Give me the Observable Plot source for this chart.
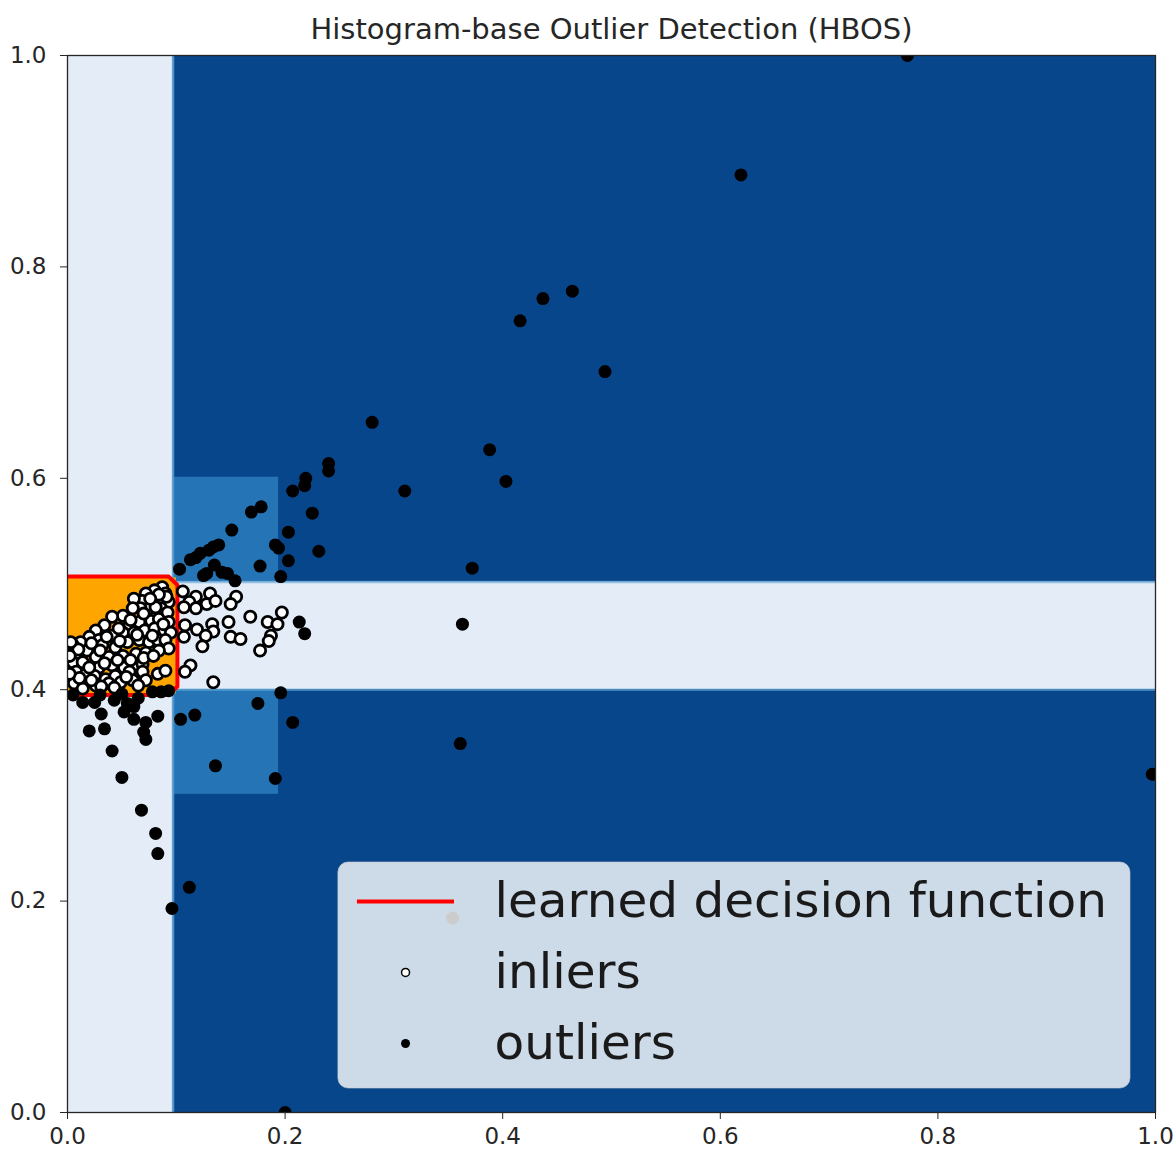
<!DOCTYPE html>
<html><head><meta charset="utf-8">
<script src="https://cdn.jsdelivr.net/npm/d3@7"></script>
<script src="https://cdn.jsdelivr.net/npm/@observablehq/plot@0.6"></script>
<style>body{margin:0;background:#fff;}</style>
</head><body><div id="chart"></div>
<script>
const title = "Histogram-base Outlier Detection (HBOS)";
const xTicks = [0, 0.2, 0.4, 0.6, 0.8, 1.0];
const yTicks = [0, 0.2, 0.4, 0.6, 0.8, 1.0];

// decision-score regions (contourf levels)
const regionLevel = ["high", "low", "mid", "low", "inlier"];
const regionX1 = [0, 0, 0.098, 0, 0];
const regionX2 = [1, 0.097, 0.194, 1, 0.1];
const regionY1 = [0, 0, 0.301, 0.400, 0.396];
const regionY2 = [1, 1, 0.601, 0.502, 0.506];

// learned decision function contour (threshold)
const contourX = [0, 0.093, 0.101, 0.101, 0.093, 0];
const contourY = [0.507, 0.507, 0.499, 0.403, 0.395, 0.395];

const inliers = [
  [0.087,0.497],[0.080,0.494],[0.072,0.491],[0.090,0.491],[0.069,0.484],[0.061,0.486],[0.080,0.484],[0.087,0.483],[0.093,0.483],
  [0.075,0.477],[0.086,0.477],[0.067,0.477],[0.060,0.477],[0.051,0.470],[0.041,0.469],[0.034,0.461],[0.057,0.462],[0.066,0.464],[0.077,0.465],[0.084,0.467],[0.092,0.473],[0.093,0.464],
  [0.026,0.456],[0.020,0.450],[0.012,0.445],[0.005,0.442],[0.029,0.447],[0.041,0.451],[0.051,0.454],[0.061,0.454],[0.071,0.456],[0.080,0.458],[0.089,0.456],[0.095,0.454],
  [0.008,0.434],[0.018,0.437],[0.032,0.442],[0.044,0.440],[0.055,0.445],[0.066,0.447],[0.075,0.445],[0.083,0.447],[0.090,0.447],[0.093,0.439],
  [0.005,0.426],[0.014,0.426],[0.026,0.431],[0.038,0.431],[0.051,0.432],[0.063,0.434],[0.072,0.435],[0.084,0.437],
  [0.008,0.417],[0.017,0.415],[0.029,0.421],[0.041,0.423],[0.052,0.421],[0.061,0.423],[0.069,0.424],
  [0.006,0.406],[0.015,0.406],[0.025,0.413],[0.035,0.410],[0.044,0.413],[0.057,0.417],[0.069,0.417],
  [0.014,0.401],[0.026,0.404],[0.038,0.406],[0.049,0.407],[0.060,0.409],[0.072,0.409],[0.083,0.415],[0.090,0.418],
  [0.010,0.438],[0.022,0.444],[0.036,0.450],[0.047,0.458],[0.058,0.466],[0.070,0.472],[0.081,0.478],[0.091,0.488],[0.084,0.490],[0.076,0.486],
  [0.030,0.437],[0.048,0.446],[0.064,0.452],[0.078,0.451],[0.088,0.462],
  [0.020,0.421],[0.034,0.425],[0.046,0.428],[0.058,0.428],[0.070,0.430],[0.079,0.432],
  [0.011,0.411],[0.022,0.409],[0.031,0.403],[0.043,0.402],[0.054,0.412],[0.065,0.404],
  [0.002,0.415],[0.002,0.432],[0.003,0.445],
  [0.106,0.493],[0.131,0.491],[0.118,0.488],[0.112,0.483],[0.128,0.481],[0.136,0.484],[0.118,0.477],[0.107,0.478],[0.155,0.488],[0.150,0.481],
  [0.168,0.469],[0.148,0.464],[0.184,0.464],[0.193,0.462],[0.197,0.473],[0.133,0.462],[0.119,0.457],[0.134,0.455],[0.127,0.451],[0.108,0.461],
  [0.107,0.450],[0.150,0.450],[0.159,0.448],[0.187,0.451],[0.185,0.446],[0.177,0.437],[0.124,0.441],[0.113,0.423],[0.108,0.417],[0.134,0.407]
];

const outliers = [
  [0.772,1.000],[0.619,0.887],[0.464,0.777],[0.437,0.770],[0.416,0.749],[0.494,0.701],[0.280,0.653],[0.388,0.627],[0.403,0.597],[0.310,0.588],
  [0.372,0.515],[0.363,0.462],[0.361,0.349],[0.997,0.320],[0.200,0.000],[0.354,0.184],
  [0.240,0.614],[0.240,0.607],[0.219,0.600],[0.218,0.593],[0.207,0.588],[0.225,0.567],[0.178,0.573],[0.169,0.568],[0.151,0.551],[0.203,0.549],
  [0.191,0.537],[0.194,0.534],[0.231,0.531],[0.139,0.537],[0.134,0.535],[0.130,0.532],[0.122,0.529],[0.118,0.525],[0.113,0.523],[0.103,0.514],
  [0.203,0.522],[0.177,0.517],[0.135,0.518],[0.125,0.508],[0.147,0.510],[0.154,0.503],[0.196,0.507],[0.128,0.510],[0.142,0.511],
  [0.213,0.464],[0.218,0.453],
  [0.014,0.388],[0.025,0.388],[0.043,0.390],[0.055,0.387],[0.061,0.384],[0.052,0.379],[0.061,0.372],[0.031,0.377],[0.083,0.375],[0.072,0.369],
  [0.020,0.361],[0.034,0.363],[0.070,0.360],[0.072,0.353],[0.041,0.342],[0.078,0.398],[0.093,0.399],[0.005,0.395],[0.030,0.395],[0.050,0.396],
  [0.065,0.392],[0.086,0.398],
  [0.050,0.317],[0.068,0.286],[0.081,0.264],[0.083,0.245],[0.112,0.213],[0.096,0.193],[0.136,0.328],
  [0.196,0.397],[0.175,0.387],[0.104,0.372],[0.117,0.376],[0.207,0.369],[0.191,0.316]
];

const legendLabels = ["learned decision function", "inliers", "outliers"];

// ---- styles / layout ----
const levelColors = {high: "#08468b", mid: "#2474b6", low: "#e3ecf7", inlier: "#ffa500"};
const edgeColor = "#5fa4d4";
const regions = regionLevel.map((l, i) => ({level: l, x1: regionX1[i], x2: regionX2[i], y1: regionY1[i], y2: regionY2[i]}));
const contour = contourX.map((x, i) => ({x, y: contourY[i]}));
// soft transitions along the contour-level boundaries (from the region arrays)
const stripEdge = regionX2[1];
const bandLow = regionY1[3], bandHigh = regionY2[3];
const vEdges = [{x: stripEdge, y1: 0, y2: bandLow}, {x: stripEdge, y1: bandHigh, y2: 1}];
const hEdges = [{y: bandLow, x1: stripEdge, x2: 1}, {y: bandHigh, x1: stripEdge, x2: 1}];
const L = {x1: 0.249, x2: 0.977, y1: 0.0227, y2: 0.2365, mark: 0.3107, lineX1: 0.2665, lineX2: 0.3557, textX: 0.3925, rows: [0.1996, 0.1325, 0.0653]};
const legendRows = legendLabels.map((t, i) => ({text: t, y: L.rows[i]}));

const chart = Plot.plot({
  width: 1176, height: 1152,
  marginLeft: 67, marginRight: 21, marginTop: 55, marginBottom: 40,
  x: {domain: [0, 1]},
  y: {domain: [0, 1]},
  style: {fontFamily: "DejaVu Sans", background: "white", color: "#262626"},
  marks: [
    Plot.rect(regions, {x1: "x1", x2: "x2", y1: "y1", y2: "y2", fill: d => levelColors[d.level]}),
    Plot.ruleX(vEdges, {x: "x", y1: "y1", y2: "y2", stroke: edgeColor, strokeWidth: 2.5, strokeOpacity: 0.8}),
    Plot.ruleY(hEdges, {y: "y", x1: "x1", x2: "x2", stroke: edgeColor, strokeWidth: 2.5, strokeOpacity: 0.6}),
    Plot.line(contour, {x: "x", y: "y", stroke: "#ff0000", strokeWidth: 4, strokeLinejoin: "round", clip: true}),
    Plot.dot(inliers, {x: d => d[0], y: d => d[1], r: 5.6, fill: "white", stroke: "black", strokeWidth: 2.8, clip: true}),
    Plot.dot(outliers, {x: d => d[0], y: d => d[1], r: 6.5, fill: "black", clip: true}),
    Plot.rect([L], {x1: "x1", x2: "x2", y1: "y1", y2: "y2", fill: "white", fillOpacity: 0.8, stroke: "#d0d0d0", strokeOpacity: 0.6, rx: 10}),
    Plot.ruleY([legendRows[0]], {y: "y", x1: L.lineX1, x2: L.lineX2, stroke: "#ff0000", strokeWidth: 4}),
    Plot.dot([legendRows[1]], {x: () => L.mark, y: "y", r: 4, fill: "white", stroke: "black", strokeWidth: 1.5}),
    Plot.dot([legendRows[2]], {x: () => L.mark, y: "y", r: 4.5, fill: "black"}),
    Plot.text(legendRows, {x: () => L.textX, y: "y", text: "text", textAnchor: "start", fontSize: 48.5, fill: "#1a1a1a"}),
    Plot.frame({stroke: "#262626", strokeWidth: 1.3}),
    Plot.axisX(xTicks, {tickSize: 7, tickPadding: 8, fontSize: 23, tickFormat: d3.format(".1f"), label: null}),
    Plot.axisY(yTicks, {tickSize: 7, tickPadding: 14, fontSize: 23, tickFormat: d3.format(".1f"), label: null}),
    Plot.text([title], {frameAnchor: "top", dy: -26, lineAnchor: "middle", fontSize: 29, fill: "#262626"})
  ]
});
document.getElementById("chart").appendChild(chart);
</script>
</body></html>
